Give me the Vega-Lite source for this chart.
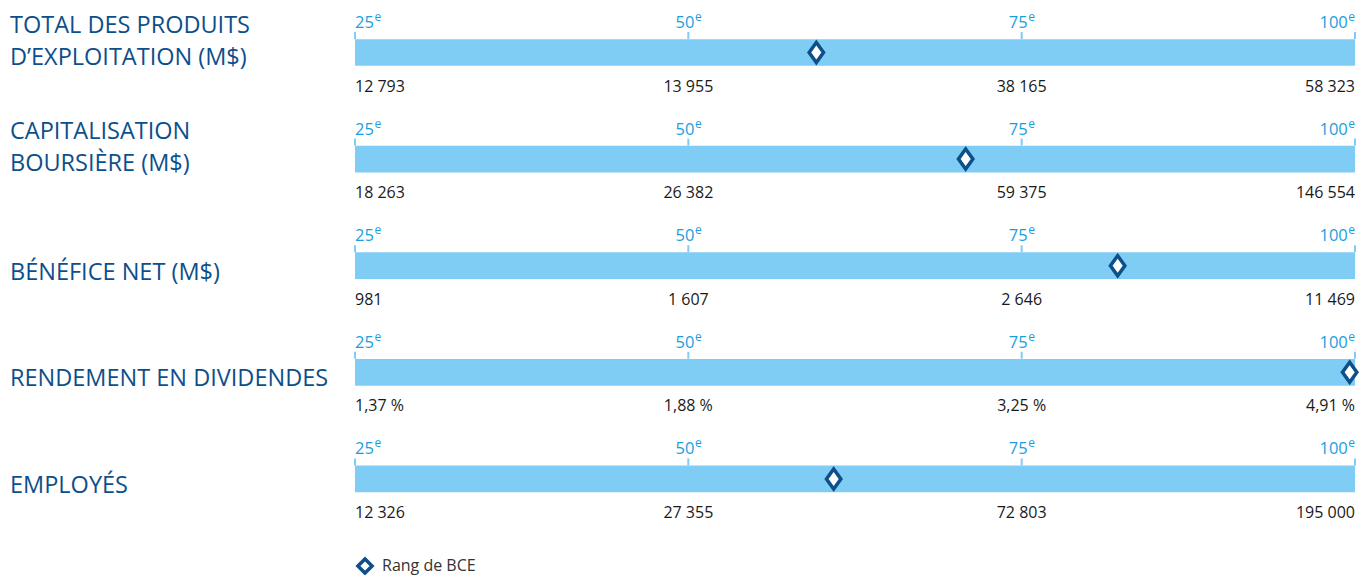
{
  "$schema": "https://vega.github.io/schema/vega-lite/v6.json",
  "autosize": "none",
  "width": 1359,
  "height": 575,
  "padding": 0,
  "background": "white",
  "config": {"view": {"stroke": null}, "font": "Open Sans"},
  "datasets": {
    "rows": [
      {"row": 1, "title": ["TOTAL DES PRODUITS", "D’EXPLOITATION (M$)"], "lines": 2, "bce": 59.6},
      {"row": 2, "title": ["CAPITALISATION", "BOURSIÈRE (M$)"], "lines": 2, "bce": 70.8},
      {"row": 3, "title": "BÉNÉFICE NET (M$)", "lines": 1, "bce": 82.2},
      {"row": 4, "title": "RENDEMENT EN DIVIDENDES", "lines": 1, "bce": 99.6},
      {"row": 5, "title": "EMPLOYÉS", "lines": 1, "bce": 60.9}
    ],
    "vals": [
      {"row": 1, "pct": 25, "val": "12 793"},
      {"row": 1, "pct": 50, "val": "13 955"},
      {"row": 1, "pct": 75, "val": "38 165"},
      {"row": 1, "pct": 100, "val": "58 323"},
      {"row": 2, "pct": 25, "val": "18 263"},
      {"row": 2, "pct": 50, "val": "26 382"},
      {"row": 2, "pct": 75, "val": "59 375"},
      {"row": 2, "pct": 100, "val": "146 554"},
      {"row": 3, "pct": 25, "val": "981"},
      {"row": 3, "pct": 50, "val": "1 607"},
      {"row": 3, "pct": 75, "val": "2 646"},
      {"row": 3, "pct": 100, "val": "11 469"},
      {"row": 4, "pct": 25, "val": "1,37 %"},
      {"row": 4, "pct": 50, "val": "1,88 %"},
      {"row": 4, "pct": 75, "val": "3,25 %"},
      {"row": 4, "pct": 100, "val": "4,91 %"},
      {"row": 5, "pct": 25, "val": "12 326"},
      {"row": 5, "pct": 50, "val": "27 355"},
      {"row": 5, "pct": 75, "val": "72 803"},
      {"row": 5, "pct": 100, "val": "195 000"}
    ]
  },
  "layer": [
    {
      "data": {"name": "rows"},
      "mark": {"type": "rule", "color": "#7fcdf4", "strokeWidth": 26.7, "strokeCap": "butt"},
      "encoding": {
        "x": {"datum": 25, "type": "quantitative", "axis": null,
              "scale": {"domain": [-1.625, 100.3], "nice": false, "zero": false}},
        "x2": {"datum": 100},
        "y": {"field": "row", "type": "quantitative", "axis": null,
              "scale": {"domain": [0.5075, 5.9015], "reverse": true, "nice": false, "zero": false}}
      }
    },
    {
      "data": {"name": "vals"},
      "mark": {"type": "tick", "orient": "vertical", "color": "#7fcdf4", "size": 7, "thickness": 2, "yOffset": -17, "opacity": 1},
      "encoding": {
        "x": {"field": "pct", "type": "quantitative", "axis": null},
        "y": {"field": "row", "type": "quantitative", "axis": null}
      }
    },
    {
      "data": {"name": "vals"},
      "transform": [{"filter": "datum.pct == 25"}],
      "mark": {"type": "text", "align": "left", "baseline": "alphabetic", "dy": -24.5, "fontSize": 16.5, "fontWeight": 500, "color": "#1a9ee0"},
      "encoding": {"x": {"field": "pct", "type": "quantitative", "axis": null}, "y": {"field": "row", "type": "quantitative", "axis": null}, "text": {"field": "pct", "type": "quantitative"}}
    },
    {
      "data": {"name": "vals"},
      "transform": [{"filter": "datum.pct == 25"}],
      "mark": {"type": "text", "align": "left", "baseline": "alphabetic", "dx": 19.5, "dy": -31.5, "fontSize": 12, "fontWeight": 500, "color": "#1a9ee0", "text": "e"},
      "encoding": {"x": {"field": "pct", "type": "quantitative", "axis": null}, "y": {"field": "row", "type": "quantitative", "axis": null}}
    },
    {
      "data": {"name": "vals"},
      "transform": [{"filter": "datum.pct == 50 || datum.pct == 75"}],
      "mark": {"type": "text", "align": "right", "baseline": "alphabetic", "dx": 6, "dy": -24.5, "fontSize": 16.5, "fontWeight": 500, "color": "#1a9ee0"},
      "encoding": {"x": {"field": "pct", "type": "quantitative", "axis": null}, "y": {"field": "row", "type": "quantitative", "axis": null}, "text": {"field": "pct", "type": "quantitative"}}
    },
    {
      "data": {"name": "vals"},
      "transform": [{"filter": "datum.pct == 50 || datum.pct == 75"}],
      "mark": {"type": "text", "align": "left", "baseline": "alphabetic", "dx": 6.7, "dy": -31.5, "fontSize": 12, "fontWeight": 500, "color": "#1a9ee0", "text": "e"},
      "encoding": {"x": {"field": "pct", "type": "quantitative", "axis": null}, "y": {"field": "row", "type": "quantitative", "axis": null}}
    },
    {
      "data": {"name": "vals"},
      "transform": [{"filter": "datum.pct == 100"}],
      "mark": {"type": "text", "align": "right", "baseline": "alphabetic", "dx": -7.2, "dy": -24.5, "fontSize": 16.5, "fontWeight": 500, "color": "#1a9ee0"},
      "encoding": {"x": {"field": "pct", "type": "quantitative", "axis": null}, "y": {"field": "row", "type": "quantitative", "axis": null}, "text": {"field": "pct", "type": "quantitative"}}
    },
    {
      "data": {"name": "vals"},
      "transform": [{"filter": "datum.pct == 100"}],
      "mark": {"type": "text", "align": "right", "baseline": "alphabetic", "dx": 0, "dy": -31.5, "fontSize": 12, "fontWeight": 500, "color": "#1a9ee0", "text": "e"},
      "encoding": {"x": {"field": "pct", "type": "quantitative", "axis": null}, "y": {"field": "row", "type": "quantitative", "axis": null}}
    },
    {
      "data": {"name": "vals"},
      "transform": [{"filter": "datum.pct == 25"}],
      "mark": {"type": "text", "align": "left", "baseline": "alphabetic", "dy": 39, "fontSize": 16, "color": "#1a1a1a"},
      "encoding": {"x": {"field": "pct", "type": "quantitative", "axis": null}, "y": {"field": "row", "type": "quantitative", "axis": null}, "text": {"field": "val"}}
    },
    {
      "data": {"name": "vals"},
      "transform": [{"filter": "datum.pct == 50 || datum.pct == 75"}],
      "mark": {"type": "text", "align": "center", "baseline": "alphabetic", "dy": 39, "fontSize": 16, "color": "#1a1a1a"},
      "encoding": {"x": {"field": "pct", "type": "quantitative", "axis": null}, "y": {"field": "row", "type": "quantitative", "axis": null}, "text": {"field": "val"}}
    },
    {
      "data": {"name": "vals"},
      "transform": [{"filter": "datum.pct == 100"}],
      "mark": {"type": "text", "align": "right", "baseline": "alphabetic", "dy": 39, "fontSize": 16, "color": "#1a1a1a"},
      "encoding": {"x": {"field": "pct", "type": "quantitative", "axis": null}, "y": {"field": "row", "type": "quantitative", "axis": null}, "text": {"field": "val"}}
    },
    {
      "data": {"name": "rows"},
      "transform": [{"filter": "datum.lines == 2"}],
      "mark": {"type": "text", "align": "left", "baseline": "alphabetic", "dy": -20, "lineHeight": 32, "fontSize": 23.5, "fontWeight": 500, "color": "#0d4f8b"},
      "encoding": {"x": {"datum": -0.875, "type": "quantitative", "axis": null}, "y": {"field": "row", "type": "quantitative", "axis": null}, "text": {"field": "title"}}
    },
    {
      "data": {"name": "rows"},
      "transform": [{"filter": "datum.lines == 1"}],
      "mark": {"type": "text", "align": "left", "baseline": "alphabetic", "dy": 14, "fontSize": 23.5, "fontWeight": 500, "color": "#0d4f8b"},
      "encoding": {"x": {"datum": -0.875, "type": "quantitative", "axis": null}, "y": {"field": "row", "type": "quantitative", "axis": null}, "text": {"field": "title"}}
    },
    {
      "data": {"name": "rows"},
      "mark": {"type": "point", "shape": "M0,-1L0.72,0L0,1L-0.72,0Z", "filled": false, "fill": "white", "fillOpacity": 1, "strokeWidth": 3.5, "size": 400, "opacity": 1},
      "encoding": {
        "x": {"field": "bce", "type": "quantitative", "axis": null},
        "y": {"field": "row", "type": "quantitative", "axis": null},
        "stroke": {"datum": "Rang de BCE", "type": "nominal",
                   "scale": {"range": ["#0d4f8b"]},
                   "legend": {"orient": "none", "legendX": 356, "legendY": 557, "title": null, "padding": 0,
                              "labelFont": "Open Sans", "labelFontSize": 16, "labelColor": "#333333", "labelOffset": 8,
                              "symbolType": "diamond", "symbolSize": 200, "symbolStrokeWidth": 3.5, "symbolFillColor": "white"}}
      }
    }
  ]
}
